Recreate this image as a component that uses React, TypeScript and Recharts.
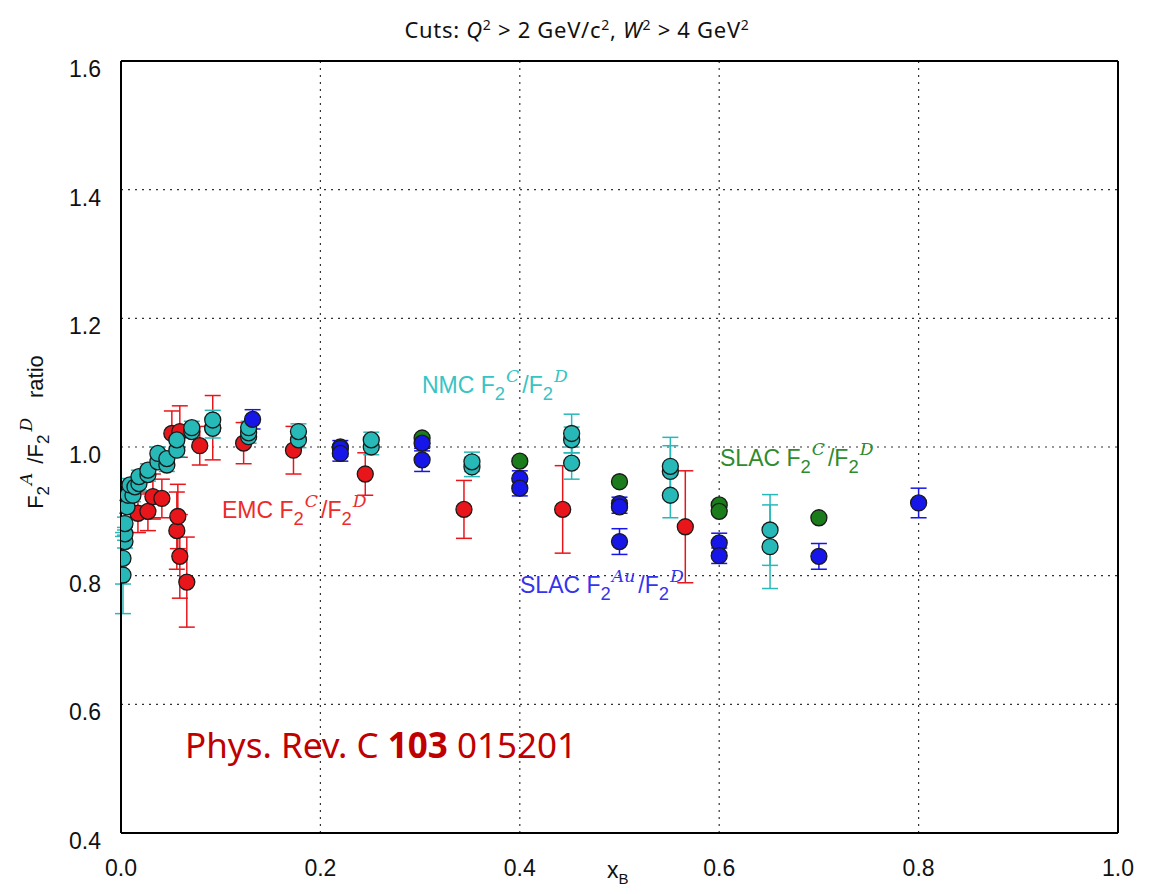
import React from 'react';
import {
  ScatterChart,
  Scatter,
  XAxis,
  YAxis,
  CartesianGrid,
  ErrorBar,
  ReferenceLine
} from 'recharts';

// EMC F2C/F2D (red)
const emcX = [0.017, 0.027, 0.032, 0.041, 0.051, 0.056, 0.057, 0.059, 0.059, 0.066, 0.079, 0.092, 0.123, 0.173, 0.245, 0.344, 0.443, 0.566];
const emcY = [0.897, 0.900, 0.923, 0.920, 1.021, 0.870, 0.892, 1.024, 0.830, 0.790, 1.002, 1.030, 1.006, 0.995, 0.958, 0.903, 0.903, 0.876];
const emcErr = [0.03, 0.03, 0.035, 0.03, 0.035, 0.06, 0.05, 0.04, 0.065, 0.07, 0.03, 0.05, 0.032, 0.037, 0.033, 0.045, 0.068, 0.087];

// NMC F2C/F2D (cyan)
const nmcX = [0.002, 0.002, 0.004, 0.004, 0.004, 0.006, 0.007, 0.012, 0.009, 0.014, 0.018, 0.018, 0.027, 0.027, 0.037, 0.037, 0.046, 0.046, 0.056, 0.056, 0.071, 0.071, 0.092, 0.092, 0.128, 0.128, 0.128, 0.178, 0.178, 0.251, 0.251, 0.352, 0.352, 0.452, 0.452, 0.452, 0.551, 0.551, 0.551, 0.651, 0.651];
const nmcY = [0.801, 0.827, 0.853, 0.865, 0.881, 0.907, 0.925, 0.925, 0.941, 0.938, 0.943, 0.954, 0.957, 0.964, 0.977, 0.990, 0.972, 0.982, 0.995, 1.011, 1.024, 1.030, 1.029, 1.042, 1.016, 1.022, 1.030, 1.011, 1.024, 1.000, 1.011, 0.969, 0.977, 0.975, 1.011, 1.021, 0.925, 0.962, 0.970, 0.845, 0.871];
const nmcErr = [0.06, 0.04, 0.01, 0.01, 0.01, 0.01, 0.01, 0.01, 0.01, 0.01, 0.01, 0.01, 0.01, 0.01, 0.01, 0.01, 0.01, 0.01, 0.01, 0.01, 0.01, 0.01, 0.015, 0.015, 0.01, 0.01, 0.01, 0.012, 0.012, 0.012, 0.012, 0.015, 0.015, 0.025, 0.02, 0.03, 0.035, 0.04, 0.045, 0.065, 0.055];

// SLAC F2C/F2D (green)
const slacCX = [0.22, 0.302, 0.40, 0.50, 0.60, 0.60, 0.70];
const slacCY = [1.000, 1.014, 0.978, 0.946, 0.910, 0.900, 0.890];

// SLAC F2Au/F2D (blue)
const slacAuX = [0.132, 0.22, 0.22, 0.302, 0.302, 0.40, 0.40, 0.50, 0.50, 0.50, 0.60, 0.60, 0.70, 0.80];
const slacAuY = [1.043, 0.998, 0.990, 1.006, 0.980, 0.951, 0.936, 0.912, 0.907, 0.853, 0.851, 0.831, 0.830, 0.913];
const slacAuErr = [0.015, 0.012, 0.012, 0.012, 0.018, 0.012, 0.012, 0.01, 0.01, 0.02, 0.015, 0.012, 0.02, 0.023];

const xTicks = [0, 0.2, 0.4, 0.6, 0.8, 1.0];
const yTicks = [0.4, 0.6, 0.8, 1.0, 1.2, 1.4, 1.6];

const RED = '#e8161b';
const CYAN = '#27b8b8';
const GREEN = '#1b7c1b';
const BLUE = '#1616e8';

const build = (xs: number[], ys: number[], errs?: number[]) =>
  xs.map((x, i) => ({ x, y: ys[i], err: errs ? errs[i] : 0 }));

const emcData = build(emcX, emcY, emcErr);
const nmcData = build(nmcX, nmcY, nmcErr);
const slacCData = build(slacCX, slacCY);
const slacAuData = build(slacAuX, slacAuY, slacAuErr);

const dot = (fill: string) => (props: any) => (
  <circle cx={props.cx} cy={props.cy} r={8} fill={fill} stroke="#1a1a1a" strokeWidth={1.3} />
);

const XTick = (props: any) => {
  const { x, y, payload } = props;
  return (
    <text x={x} y={y + 27} textAnchor="middle" dominantBaseline="central" fontSize={23} fontFamily="Liberation Sans" fill="#111">
      {payload.value.toFixed(1)}
    </text>
  );
};

const YTick = (props: any) => {
  const { x, y, payload } = props;
  return (
    <text x={x - 12} y={y + 8} textAnchor="end" dominantBaseline="central" fontSize={23} fontFamily="Liberation Sans" fill="#111">
      {payload.value.toFixed(1)}
    </text>
  );
};

const MATH = 'DejaVu Serif';

// F_2^num / F_2^den label
const RatioText = ({ x, y, prefix, num, den, color, size }: any) => (
  <text x={x} y={y} fill={color} fontSize={size} fontFamily="Liberation Sans">
    {prefix}F
    <tspan dy={size * 0.3} fontSize={size * 0.8}>2</tspan>
    <tspan dy={-size * 0.78} dx={1} fontSize={size * 0.75} fontStyle="italic" fontFamily={MATH}>{num}</tspan>
    <tspan dy={size * 0.48} dx={3}>/F</tspan>
    <tspan dy={size * 0.3} fontSize={size * 0.8}>2</tspan>
    <tspan dy={-size * 0.78} dx={1} fontSize={size * 0.75} fontStyle="italic" fontFamily={MATH}>{den}</tspan>
  </text>
);

const App: React.FC = () => {
  return (
    <div style={{ position: 'absolute', left: 0, top: 0, width: 1154, height: 894, background: '#fff' }}>
      <ScatterChart width={1154} height={894} margin={{ top: 61, right: 36, bottom: 0, left: 0 }}>
        <CartesianGrid stroke="#333" strokeDasharray="2 5" strokeWidth={1.2} />
        <XAxis
          type="number"
          dataKey="x"
          domain={[0, 1]}
          ticks={xTicks}
          tick={<XTick />}
          tickLine={false}
          axisLine={{ stroke: '#000', strokeWidth: 2 }}
          height={61}
          allowDataOverflow
        />
        <YAxis
          type="number"
          dataKey="y"
          domain={[0.4, 1.6]}
          ticks={yTicks}
          tick={<YTick />}
          tickLine={false}
          axisLine={{ stroke: '#000', strokeWidth: 2 }}
          width={121}
          allowDataOverflow
        />
        <ReferenceLine x={1} stroke="#000" strokeWidth={2} />
        <ReferenceLine y={1.6} stroke="#000" strokeWidth={2} />
        <Scatter data={emcData} shape={dot(RED)} isAnimationActive={false}>
          <ErrorBar dataKey="err" direction="y" stroke={RED} strokeWidth={1.5} width={8} />
        </Scatter>
        <Scatter data={nmcData} shape={dot(CYAN)} isAnimationActive={false}>
          <ErrorBar dataKey="err" direction="y" stroke={CYAN} strokeWidth={1.5} width={8} />
        </Scatter>
        <Scatter data={slacCData} shape={dot(GREEN)} isAnimationActive={false} />
        <Scatter data={slacAuData} shape={dot(BLUE)} isAnimationActive={false}>
          <ErrorBar dataKey="err" direction="y" stroke={BLUE} strokeWidth={1.5} width={8} />
        </Scatter>
      </ScatterChart>

      <svg width={1154} height={894} style={{ position: 'absolute', left: 0, top: 0, pointerEvents: 'none' }}>
        {/* title */}
        <text x={577} y={38} textAnchor="middle" fontSize={22} letterSpacing={0.7} fontFamily="Noto Sans" fill="#111">
          Cuts: <tspan fontStyle="italic">Q</tspan>
          <tspan dy={-8} fontSize={14}>2</tspan>
          <tspan dy={8}> &gt; 2 GeV/c</tspan>
          <tspan dy={-8} fontSize={14}>2</tspan>
          <tspan dy={8}>, </tspan>
          <tspan fontStyle="italic">W</tspan>
          <tspan dy={-8} fontSize={14}>2</tspan>
          <tspan dy={8}> &gt; 4 GeV</tspan>
          <tspan dy={-8} fontSize={14}>2</tspan>
        </text>

        {/* y axis label */}
        <g transform="translate(43,432) rotate(-90)">
          <text x={0} y={0} textAnchor="middle" fontSize={22} fontFamily="Liberation Sans" fill="#111">
            F
            <tspan dy={6} fontSize={17}>2</tspan>
            <tspan dy={-17} dx={1} fontSize={17} fontStyle="italic" fontFamily={MATH}>A</tspan>
            <tspan dy={11} dx={9}>/F</tspan>
            <tspan dy={6} fontSize={17}>2</tspan>
            <tspan dy={-17} dx={3} fontSize={17} fontStyle="italic" fontFamily={MATH}>D</tspan>
            <tspan dy={11} dx={20}>ratio</tspan>
          </text>
        </g>

        {/* x axis label */}
        <text x={607} y={878} fontSize={23} fontFamily="Liberation Sans" fill="#111">
          x<tspan dy={6} fontSize={15}>B</tspan>
        </text>

        <RatioText x={422} y={393} prefix="NMC " num="C" den="D" color="#36c4c4" size={23} />
        <RatioText x={222} y={518} prefix="EMC " num="C" den="D" color="#ee2a2a" size={23} />
        <RatioText x={520} y={593} prefix="SLAC " num="Au" den="D" color="#3434ee" size={23} />
        <RatioText x={720} y={466} prefix="SLAC " num="C" den="D" color="#2e8b2e" size={23} />

        <text x={185} y={758} fontSize={35} fontFamily="Noto Sans" fill="#c00000">
          Phys. Rev. C <tspan fontWeight="bold">103</tspan> 015201
        </text>
      </svg>
    </div>
  );
};

export default App;
